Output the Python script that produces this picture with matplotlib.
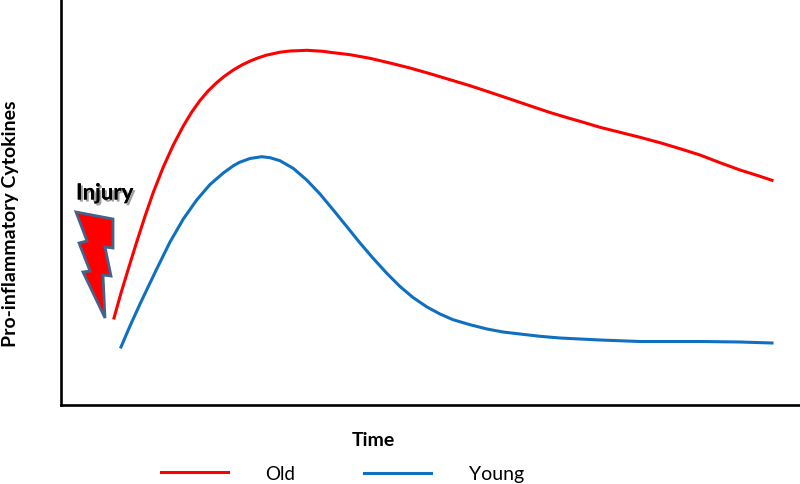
import matplotlib
matplotlib.use('Agg')
import matplotlib.pyplot as plt
import matplotlib.patheffects as pe
from matplotlib.patches import Polygon

plt.rcParams['font.family'] = ['Lato', 'DejaVu Sans']

# values, arbitrary units from the axes corner
old_time = [53, 60, 67.3, 75.7, 84, 92.3, 102.3, 112.3, 122.3, 130.7, 139, 147, 155.7, 164, 172.3,
            180.7, 189, 197, 205.7, 219, 229, 246, 262, 269, 289, 309, 329, 349, 369, 389, 409,
            429, 449, 469, 489, 509, 519, 539, 559, 579, 599, 619, 639, 659, 679, 699, 711]
old_level = [87, 112, 136, 163, 188.7, 212.7, 238, 260, 279, 292.9, 304.5, 313.9, 322.4, 329.2, 335,
             339.9, 343.9, 347.1, 349.9, 352.8, 354, 354.7, 353.7, 352.7, 350.3, 346.7, 342, 337,
             331.3, 325.3, 319.3, 312.7, 306, 299.2, 292.5, 286.5, 283.7, 277.7, 272.7, 267.7,
             262.3, 256.3, 250, 242.3, 235, 228.7, 224.7]
young_time = [60, 69, 79, 89, 95.7, 109, 122.3, 135.7, 149, 162.3, 172.3, 178.3, 189, 200.7, 209,
              219, 232.3, 245.7, 259, 272.3, 285.7, 299, 312.3, 326, 339, 352, 366, 379, 392, 409,
              426, 442, 459, 479, 499, 539, 579, 639, 679, 711]
young_level = [58, 79, 101, 122, 136, 163, 186, 205, 220.5, 232, 239.2, 242.6, 246.5, 248.3,
               247.3, 244.3, 236.6, 225, 211, 195, 178.5, 162, 146.5, 131.5, 118.5, 107.5, 98, 91,
               85.3, 80.3, 76, 73, 71, 68.7, 67, 65, 63.5, 63.5, 63, 62]
bolt_time = [15, 52, 52, 44, 50, 42, 44, 22, 29, 18, 26]
bolt_level = [193, 186, 157, 158, 129, 130, 87, 133, 134, 162, 164]

fig = plt.figure(figsize=(8, 4.85), dpi=100)
ax = fig.add_axes([61 / 800, 79 / 485, 739 / 800, 406 / 485])
ax.set_xlim(0, 739)
ax.set_ylim(0, 406)

ax.plot(old_time, old_level, color='#ff0000', lw=2.2, solid_joinstyle='round')
ax.plot(young_time, young_level, color='#0f6fc0', lw=2.2, solid_joinstyle='round')

ax.add_patch(Polygon(list(zip(bolt_time, bolt_level)), closed=True, facecolor='#ff0000',
                     edgecolor='#41648f', lw=2, joinstyle='miter'))
ax.text(15, 212, 'Injury', fontsize=16, fontweight='bold', va='center', ha='left', color='black',
        path_effects=[pe.withSimplePatchShadow(offset=(1.5, -1.5), shadow_rgbFace='#777777', alpha=0.7),
                      pe.Normal()])

ax.spines['top'].set_visible(False)
ax.spines['right'].set_visible(False)
ax.spines['left'].set_linewidth(1.9)
ax.spines['bottom'].set_linewidth(1.9)
ax.set_xticks([])
ax.set_yticks([])

fig.text(373 / 800, 1 - 441 / 485, 'Time', fontsize=14, fontweight='bold', ha='center', va='center')
fig.text(11 / 800, 1 - 224 / 485, 'Pro-inflammatory Cytokines', fontsize=14, fontweight='bold',
         rotation=90, ha='center', va='center')

# hand placed legend, same as the original
fig.add_artist(plt.Line2D([161 / 800, 228 / 800], [1 - 473 / 485] * 2, color='#ff0000', lw=2.2))
fig.add_artist(plt.Line2D([364 / 800, 431 / 800], [1 - 474 / 485] * 2, color='#0f6fc0', lw=2.2))
fig.text(280.5 / 800, 1 - 475 / 485, 'Old', fontsize=13.5, ha='center', va='center')
fig.text(497 / 800, 1 - 475 / 485, 'Young', fontsize=14, ha='center', va='center')

fig.savefig('out.png', dpi=100)
